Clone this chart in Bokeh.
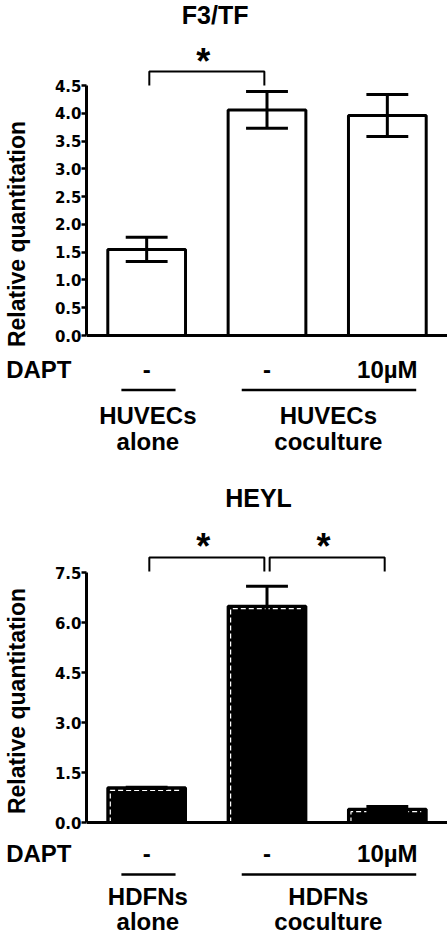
from bokeh.plotting import figure
from bokeh.layouts import column
from bokeh.models import Range1d, Span, LinearAxis, FixedTicker, NumeralTickFormatter, ColumnDataSource
from bokeh.core.properties import value
from bokeh.embed import file_html
from bokeh.resources import INLINE

# ---------------- data ----------------
conditions = ["alone", "coculture", "coculture + DAPT"]
dapt_labels = ["-", "-", "10µM"]
group_conditions = ["alone", "coculture"]
group_members = [[0], [1, 2]]
treatment_name = "DAPT"
y_label = "Relative quantitation"

f3tf_title = "F3/TF"
f3tf_cell = "HUVECs"
f3tf_values = [1.55, 4.06, 3.96]
f3tf_errors = [0.22, 0.33, 0.38]
f3tf_ticks = [0.0, 0.5, 1.0, 1.5, 2.0, 2.5, 3.0, 3.5, 4.0, 4.5]
f3tf_sig_pairs = [(0, 1)]

heyl_title = "HEYL"
heyl_cell = "HDFNs"
heyl_values = [1.04, 6.49, 0.40]
heyl_errors = [0.02, 0.60, 0.08]
heyl_ticks = [0.0, 1.5, 3.0, 4.5, 6.0, 7.5]
heyl_sig_pairs = [(0, 1), (1, 2)]

# ---------------- layout / style ----------------
W = 447
FRAME_LEFT = 85
X0, X1 = -0.5, 2.5
PPX = (W - FRAME_LEFT) / (X1 - X0)
FONT = "Liberation Sans"
BAR_W = 0.646
CAP_HALF = 0.174


def fx(px):
    return X0 + (px - FRAME_LEFT) / PPX


def make_panel(title, cell, vals, errs, ticks, sig_pairs, fill, lay):
    H, ppu, zero = lay["height"], lay["ppu"], lay["zero"]

    def fy(py):
        return (zero - py) / ppu

    p = figure(width=W, height=H, x_range=Range1d(X0, X1), y_range=Range1d(fy(H), fy(0)),
               output_backend="svg", toolbar_location=None, title=None,
               x_axis_location=None, min_border_left=FRAME_LEFT, min_border_right=0,
               min_border_top=0, min_border_bottom=0)
    p.outline_line_color = None
    p.xgrid.grid_line_color = None
    p.ygrid.grid_line_color = None
    p.background_fill_color = "white"
    p.border_fill_color = "white"

    yax = p.yaxis[0]
    yax.bounds = (ticks[0], ticks[-1])
    yax.ticker = FixedTicker(ticks=ticks, minor_ticks=[])
    yax.formatter = NumeralTickFormatter(format="0.0")
    yax.axis_line_width = 3
    yax.axis_line_color = "black"
    yax.major_tick_line_width = 2.5
    yax.major_tick_out = 5
    yax.major_tick_in = 0
    yax.minor_tick_line_color = None
    yax.major_label_standoff = 0
    yax.major_label_text_font = "DejaVu Sans"
    yax.major_label_text_font_style = "bold"
    yax.major_label_text_font_size = "15px"
    yax.major_label_text_color = "black"
    yax.axis_label = y_label
    yax.axis_label_standoff = lay["label_standoff"]
    yax.axis_label_text_font = FONT
    yax.axis_label_text_font_style = "bold"
    yax.axis_label_text_font_size = "23px"
    yax.axis_label_text_color = "black"

    # treatment name as the label of a second, line-less axis
    dv = round(fy(lay["dapt_y"]), 4)
    dax = LinearAxis(ticker=FixedTicker(ticks=[dv], minor_ticks=[]),
                     major_label_overrides={dv: treatment_name})
    dax.axis_line_color = None
    dax.major_tick_line_color = None
    dax.minor_tick_line_color = None
    dax.major_tick_out = 0
    dax.major_tick_in = 0
    dax.major_label_standoff = lay["dapt_standoff"]
    dax.major_label_text_font = FONT
    dax.major_label_text_font_style = "bold"
    dax.major_label_text_font_size = "24px"
    dax.major_label_text_color = "black"
    p.add_layout(dax, "left")

    xs = list(range(len(vals)))
    src = ColumnDataSource(dict(
        x=xs, top=vals,
        lo=[v - e for v, e in zip(vals, errs)],
        hi=[v + e for v, e in zip(vals, errs)],
        cl=[x - CAP_HALF for x in xs],
        cr=[x + CAP_HALF for x in xs],
        label=dapt_labels,
    ))

    p.vbar(x="x", top="top", bottom=0, width=BAR_W, fill_color=fill,
           line_color="black", line_width=3, source=src)

    if fill == "black":
        dx = 2.5 / PPX
        dy = 2.5 / ppu
        mx, my = [], []
        for x, v in zip(xs, vals):
            left = x - BAR_W / 2 + dx
            right = x + BAR_W / 2 - 2 * dx
            mx.append([left, left, right])
            my.append([0, v - dy, v - dy])
        p.multi_line(xs=mx, ys=my, line_color="white", line_width=1.2, line_dash="5 3")

    p.segment(x0="x", x1="x", y0="lo", y1="hi", line_color="black", line_width=3, source=src)
    p.segment(x0="cl", x1="cr", y0="hi", y1="hi", line_color="black", line_width=3, source=src)
    p.segment(x0="cl", x1="cr", y0="lo", y1="lo", line_color="black", line_width=3, source=src)

    p.add_layout(Span(location=0, dimension="width", line_color="black", line_width=3))

    txt = dict(text_align="center", text_baseline="middle", text_font=value(FONT),
               text_font_style="bold", text_color="black")

    # title
    p.text(x=[fx(lay["title_x"])], y=[fy(lay["title_y"])], text=[title],
           text_font_size="25px", **txt)

    # significance brackets
    bx, by, sx, stext = [], [], [], []
    for a, b in sig_pairs:
        l, r = a + 0.022, b - 0.022
        bx.append([l, l, r, r])
        by.append([fy(lay["leg_bottom"]), fy(lay["bracket"]), fy(lay["bracket"]), fy(lay["leg_bottom"])])
        sx.append((a + b) / 2 - 0.03)
        stext.append("*")
    p.multi_line(xs=bx, ys=by, line_color="black", line_width=2)
    p.text(x=sx, y=[fy(lay["star_y"])] * len(sx), text=stext, text_font_size="36px", **txt)

    # treatment row
    p.text(x="x", y=fy(lay["dapt_y"]), text="label", source=src, text_font_size="24px", **txt)

    # group underlines and labels
    ux0 = [min(m) - 0.21 for m in group_members]
    ux1 = [max(m) + 0.24 for m in group_members]
    uy = fy(lay["underline"])
    p.segment(x0=ux0, x1=ux1, y0=uy, y1=uy, line_color="black", line_width=2.5)
    gx = [sum(m) / len(m) + 0.01 for m in group_members]
    p.text(x=gx, y=fy(lay["g1_y"]), text=[cell] * len(gx), text_font_size="24px", **txt)
    p.text(x=gx, y=fy(lay["g2_y"]), text=group_conditions, text_font_size="24px", **txt)
    return p


top_layout = dict(height=467, ppu=250 / 4.5, zero=335, title_x=214, title_y=14,
                  bracket=71, leg_bottom=85, star_y=61, dapt_y=368.5, underline=389.5,
                  g1_y=414.5, g2_y=441, label_standoff=22, dapt_standoff=-71)
bot_layout = dict(height=467, ppu=250 / 7.5, zero=355, title_x=257.5, title_y=30,
                  bracket=90, leg_bottom=104, star_y=79, dapt_y=386, underline=407,
                  g1_y=428.5, g2_y=454, label_standoff=22, dapt_standoff=-71)

p1 = make_panel(f3tf_title, f3tf_cell, f3tf_values, f3tf_errors, f3tf_ticks, f3tf_sig_pairs,
                "white", top_layout)
p2 = make_panel(heyl_title, heyl_cell, heyl_values, heyl_errors, heyl_ticks, heyl_sig_pairs,
                "black", bot_layout)

layout = column(p1, p2)
open("out.html", "w").write(file_html(layout, INLINE))
